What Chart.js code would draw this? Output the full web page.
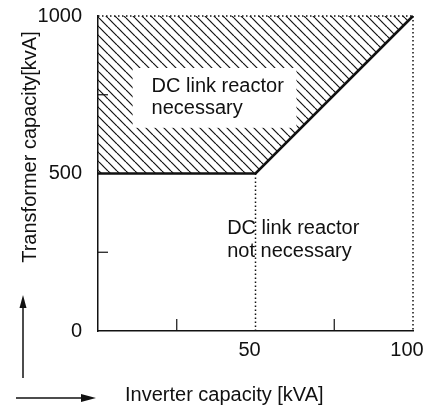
<!DOCTYPE html>
<html>
<head>
<meta charset="utf-8">
<script src="https://cdn.jsdelivr.net/npm/chart.js@4.4.0/dist/chart.umd.min.js"></script>
<style>
  html, body { margin: 0; padding: 0; background: #fff; }
  #wrap { width: 424px; height: 407px; }
</style>
</head>
<body>
<div id="wrap"><canvas id="reactorChart" width="424" height="407"></canvas></div>
<script>
// inverter capacity [kVA] vs. the transformer capacity limit [kVA]
var inverterKVA = [0, 50, 100];
var transformerKVA = [500, 500, 1000];

var xTicks = [50, 100];
var yTicks = [0, 500, 1000];
var xMinorTicks = [25, 75];
var yMinorTicks = [250, 750];

var fontFamily = '"Liberation Sans", Arial, Helvetica, sans-serif';
var fontSize = 20;
var ink = '#111';

// limit curve as points
var limitPoints = inverterKVA.map(function (v, i) { return { x: v, y: transformerKVA[i] }; });
var xMax = inverterKVA[inverterKVA.length - 1];
var yMax = transformerKVA[transformerKVA.length - 1];

// dotted frame: top edge, right edge, and the drop line from the knee
var topEdge = [{ x: 0, y: yMax }, { x: xMax, y: yMax }];
var rightEdge = [{ x: xMax, y: yMax }, { x: xMax, y: 0 }];
var kneeDrop = [{ x: inverterKVA[1], y: transformerKVA[1] }, { x: inverterKVA[1], y: 0 }];

// diagonal hatch for the "necessary" area
function makeHatch() {
    var s = 9;
    var c = document.createElement('canvas');
    c.width = s; c.height = s;
    var g = c.getContext('2d');
    g.strokeStyle = ink;
    g.lineWidth = 1.2;
    for (var k = -s; k <= s; k += s) {
        g.beginPath();
        g.moveTo(k, 0);
        g.lineTo(k + s, s);
        g.stroke();
    }
    return g.createPattern(c, 'repeat');
}

function arrow(ctx, x1, y1, x2, y2, headLen, headW) {
    var a = Math.atan2(y2 - y1, x2 - x1);
    ctx.beginPath();
    ctx.moveTo(x1, y1);
    ctx.lineTo(x2 - Math.cos(a) * headLen, y2 - Math.sin(a) * headLen);
    ctx.stroke();
    ctx.beginPath();
    ctx.moveTo(x2, y2);
    ctx.lineTo(x2 - Math.cos(a) * headLen - Math.sin(a) * headW / 2, y2 - Math.sin(a) * headLen + Math.cos(a) * headW / 2);
    ctx.lineTo(x2 - Math.cos(a) * headLen + Math.sin(a) * headW / 2, y2 - Math.sin(a) * headLen - Math.cos(a) * headW / 2);
    ctx.closePath();
    ctx.fill();
}

var decorations = {
    id: 'decorations',
    afterDatasetsDraw: function (chart) {
        var ctx = chart.ctx, xs = chart.scales.x, ys = chart.scales.y, area = chart.chartArea;
        ctx.save();
        ctx.strokeStyle = ink;
        ctx.fillStyle = ink;
        ctx.lineWidth = 1.2;

        // minor ticks pointing into the plot
        xMinorTicks.forEach(function (v) {
            var px = xs.getPixelForValue(v);
            ctx.beginPath();
            ctx.moveTo(px, area.bottom);
            ctx.lineTo(px, area.bottom - 12);
            ctx.stroke();
        });
        yMinorTicks.forEach(function (v) {
            var py = ys.getPixelForValue(v);
            ctx.beginPath();
            ctx.moveTo(area.left, py);
            ctx.lineTo(area.left + 10, py);
            ctx.stroke();
        });

        // clear patch behind the upper label
        var bx1 = xs.getPixelForValue(11), bx2 = xs.getPixelForValue(63);
        var by1 = ys.getPixelForValue(835), by2 = ys.getPixelForValue(645);
        ctx.fillStyle = '#fff';
        ctx.fillRect(bx1, by1, bx2 - bx1, by2 - by1);

        ctx.fillStyle = ink;
        ctx.font = fontSize + 'px ' + fontFamily;
        ctx.textAlign = 'left';
        ctx.textBaseline = 'middle';
        ctx.fillText('DC link reactor', xs.getPixelForValue(17), ys.getPixelForValue(775));
        ctx.fillText('necessary', xs.getPixelForValue(17), ys.getPixelForValue(706));
        ctx.fillText('DC link reactor', xs.getPixelForValue(41), ys.getPixelForValue(324));
        ctx.fillText('not necessary', xs.getPixelForValue(41), ys.getPixelForValue(251));

        // axis titles
        ctx.fillText('Inverter capacity [kVA]', 125, 395);
        ctx.save();
        ctx.translate(30, 147);
        ctx.rotate(-Math.PI / 2);
        ctx.textAlign = 'center';
        ctx.fillText('Transformer capacity[kvA]', 0, 0);
        ctx.restore();

        // direction arrows
        ctx.lineWidth = 1.5;
        arrow(ctx, 23, 378, 23, 295, 13, 7);
        arrow(ctx, 16, 398, 96, 398, 15, 8);
        ctx.restore();
    }
};

var dotted = { borderColor: ink, borderWidth: 1.5, borderDash: [1.5, 2.5], pointRadius: 0, showLine: true, fill: false, clip: false };

new Chart(document.getElementById('reactorChart'), {
    type: 'scatter',
    data: {
        datasets: [
            Object.assign({ data: topEdge }, dotted),
            Object.assign({ data: rightEdge }, dotted),
            Object.assign({ data: kneeDrop }, dotted),
            {
                data: limitPoints,
                showLine: true,
                borderColor: ink,
                borderWidth: 2.6,
                pointRadius: 0,
                fill: 'end',
                backgroundColor: makeHatch(),
                clip: false
            }
        ]
    },
    options: {
        responsive: false,
        animation: false,
        layout: { padding: { top: 16, right: 11, left: 0, bottom: 0 } },
        plugins: { legend: { display: false }, tooltip: { enabled: false } },
        scales: {
            x: {
                type: 'linear',
                min: 0,
                max: xMax,
                grid: { display: false },
                border: { display: true, color: ink, width: 1.5, dash: [12, 3, 3, 3] },
                ticks: {
                    color: ink, font: { family: fontFamily, size: fontSize }, padding: -1, maxRotation: 0, labelOffset: -6,
                    callback: function (v) { return String(v); }
                },
                afterBuildTicks: function (s) { s.ticks = xTicks.map(function (v) { return { value: v }; }); },
                afterFit: function (s) { s.height = 76; s.paddingLeft = 0; s.paddingRight = 0; }
            },
            y: {
                type: 'linear',
                min: 0,
                max: yMax,
                grid: { display: false },
                border: { display: true, color: ink, width: 1.5 },
                ticks: {
                    color: ink, font: { family: fontFamily, size: fontSize }, padding: 8,
                    callback: function (v) { return String(v); }
                },
                afterBuildTicks: function (s) { s.ticks = yTicks.map(function (v) { return { value: v }; }); },
                afterFit: function (s) { s.width = 98; s.paddingTop = 0; s.paddingBottom = 0; }
            }
        }
    },
    plugins: [decorations]
});
</script>
</body>
</html>
